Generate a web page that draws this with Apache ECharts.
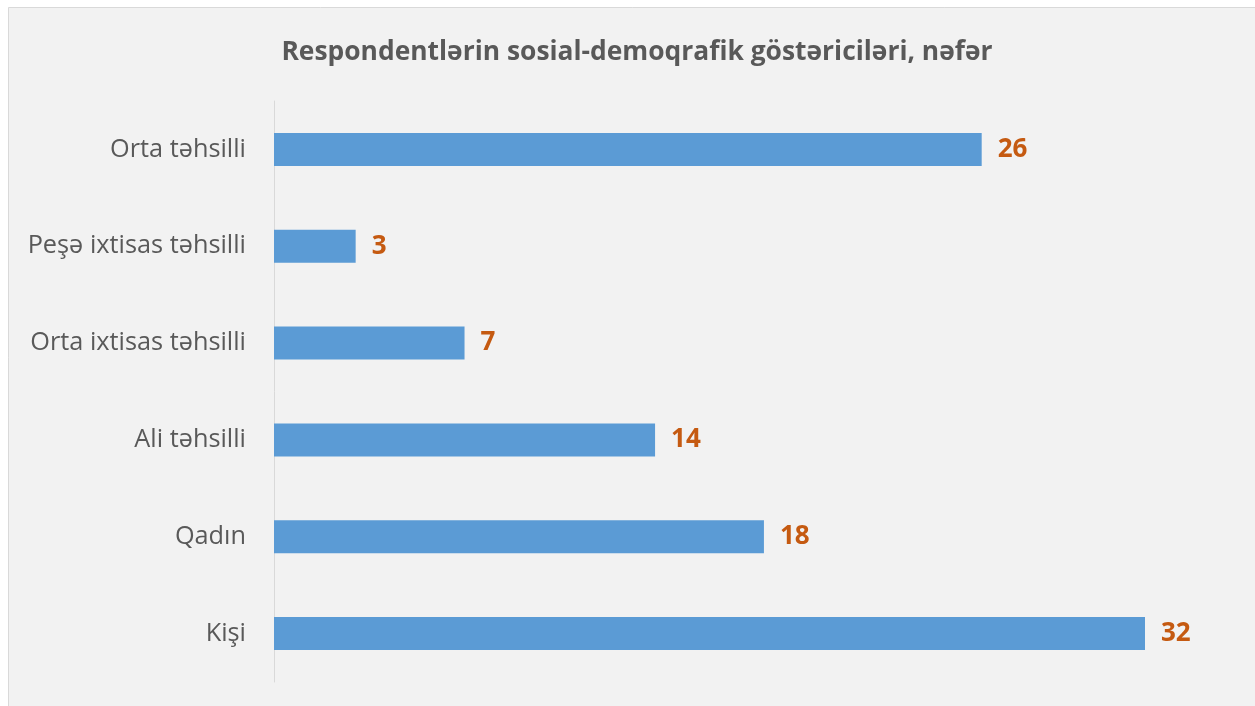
<!DOCTYPE html>
<html>
<head>
<meta charset="utf-8">
<script src="https://cdn.jsdelivr.net/npm/echarts@6/dist/echarts.min.js"></script>
<style>
html,body{margin:0;padding:0;background:#fff;}
#c{width:1255px;height:706px;}
</style>
</head>
<body>
<div id="c"></div>
<script>
const titleText = 'Respondentlərin sosial-demoqrafik göstəriciləri, nəfər';
const categories = ['Kişi', 'Qadın', 'Ali təhsilli', 'Orta ixtisas təhsilli', 'Peşə ixtisas təhsilli', 'Orta təhsilli'];
const values = [32, 18, 14, 7, 3, 26];

const chart = echarts.init(document.getElementById('c'), null, {renderer: 'canvas'});
chart.setOption({
  backgroundColor: '#ffffff',
  animation: false,
  graphic: [{
    type: 'rect', z: -10, silent: true,
    shape: {x: 8.5, y: 7.5, width: 1260, height: 720},
    style: {fill: '#f2f2f2', stroke: '#d9d9d9', lineWidth: 1}
  }],
  title: {
    text: titleText,
    left: 632, top: 34, textAlign: 'center',
    textStyle: {fontFamily: 'Open Sans', fontWeight: 'bold', fontSize: 26.4, color: '#595959'}
  },
  grid: {left: 274, right: 110, top: 101, bottom: 24, containLabel: false},
  xAxis: {
    type: 'value', min: 0, max: 32, show: false
  },
  yAxis: {
    type: 'category', data: categories,
    axisLine: {show: true, lineStyle: {color: '#d9d9d9', width: 1}},
    axisTick: {show: false},
    axisLabel: {margin: 28, fontFamily: 'Open Sans', fontSize: 25.3, color: '#595959', padding: [3, 0, 0, 0]},
    splitLine: {show: false}
  },
  series: [{
    type: 'bar', data: values, barWidth: 33,
    itemStyle: {color: '#5b9bd5'},
    label: {
      show: true, position: 'right', distance: 16,
      fontFamily: 'Open Sans', fontWeight: 'bold', fontSize: 26, color: '#c55a11',
      padding: [3, 0, 0, 0]
    }
  }]
});
</script>
</body>
</html>
